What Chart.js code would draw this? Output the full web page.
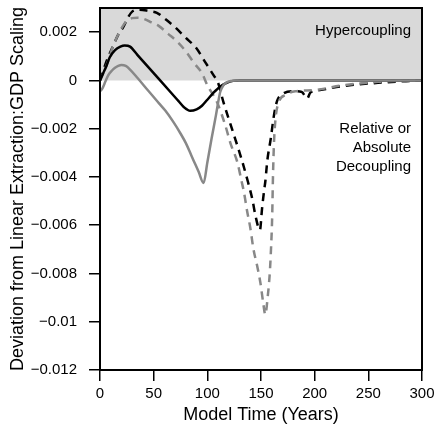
<!DOCTYPE html>
<html>
<head>
<meta charset="utf-8">
<script src="https://cdn.jsdelivr.net/npm/chart.js@4/dist/chart.umd.min.js"></script>
<style>
html,body{margin:0;padding:0;background:#fff;}
#wrap{width:435px;height:429px;position:relative;}
</style>
</head>
<body>
<div id="wrap"><canvas id="c" width="435" height="429"></canvas></div>
<script>
// ---- data ----
const blackSolidX = [0,3,6,9,14,19,23,28,35,45,55,65,73,78,84,90,95,100,106,112,118,124,130,150,200,300];
const blackSolidY = [0,0.0003,0.0006,0.00095,0.00125,0.0014,0.00145,0.0014,0.00105,0.00055,0.00005,-0.00045,-0.00085,-0.0011,-0.00126,-0.0012,-0.00105,-0.0008,-0.0005,-0.00025,-0.0001,-0.00002,0,0,0,0];

const graySolidX = [0,2,5,7.5,11,14,17,20,24,28,35,45,55,61,68,75,80,85,89,92,96.5,100,104,108,112,115,118,122,128,150,200,300];
const graySolidY = [-0.00045,-0.00035,-0.00005,0.0002,0.0004,0.00052,0.0006,0.00064,0.0006,0.00045,0.0001,-0.00043,-0.00095,-0.00126,-0.0017,-0.0022,-0.0026,-0.0031,-0.0035,-0.0038,-0.00425,-0.0034,-0.0024,-0.00145,-0.00048,-0.0002,-0.00008,-0.00002,0,0,0,0];

const blackDashX = [0,3,7,12,17,21.5,26,30,37,45,53,62,70,80,89.5,98,105.6,110,115,124,132,138,142,145,149,151,153,154,156,159,162,165,170,180,188,193,196,205,224,259,290,300];
const blackDashY = [0,0.0004,0.0009,0.0014,0.0019,0.0022,0.0026,0.00285,0.00293,0.00288,0.0028,0.0025,0.0022,0.00176,0.00135,0.00076,0.00023,-0.0001,-0.0009,-0.00215,-0.00328,-0.00423,-0.00494,-0.00564,-0.0062,-0.0053,-0.00453,-0.0042,-0.00328,-0.00244,-0.00147,-0.00085,-0.00057,-0.00045,-0.00048,-0.00075,-0.0005,-0.0004,-0.00025,-0.0001,-0.00002,0];

const grayDashX = [0,3,7.5,12,17,22,26,30,35,42,48,55,63.5,72,80,88,95,100,109,117,121.5,128,132,134,137,140,143,146.5,149.5,152,154,156.4,158,159,160.5,161,162,163.5,166.6,173,182,200,224,259,300];
const grayDashY = [0,0.0003,0.0008,0.0014,0.0019,0.0023,0.0025,0.00258,0.0026,0.00253,0.0024,0.00225,0.00193,0.0016,0.0012,0.0007,0.0003,-0.0002,-0.0009,-0.0019,-0.0026,-0.0034,-0.0042,-0.0046,-0.0054,-0.0061,-0.007,-0.0077,-0.0084,-0.0092,-0.0097,-0.0089,-0.0081,-0.0073,-0.0055,-0.0043,-0.0027,-0.0016,-0.0009,-0.0006,-0.00045,-0.0004,-0.00022,-0.00006,0];

const xTickValues = [0,50,100,150,200,250,300];
const yTickValues = [-0.012,-0.01,-0.008,-0.006,-0.004,-0.002,0,0.002];
const yTickLabels = ['\u22120.012','\u22120.01','\u22120.008','\u22120.006','\u22120.004','\u22120.002','0','0.002'];
const shadeX = [0,300];
const shadeTop = 0.003;
const shadeBase = 0;

const xTitle = 'Model Time (Years)';
const yTitle = 'Deviation from Linear Extraction:GDP Scaling';
const upperLabel = ['Hypercoupling'];
const lowerLabel = ['Relative or','Absolute','Decoupling'];

// ---- build ----
const pts = (xs, ys) => xs.map((x,i)=>({x:x,y:ys[i]}));
const FONT = '"Liberation Sans", Arial, Helvetica, sans-serif';
const GRAY = '#888888';

const framePlugin = {
  id:'frame',
  afterDatasetsDraw(chart){
    const {ctx, chartArea:a, scales} = chart;
    ctx.save();
    ctx.fillStyle = '#000';
    ctx.font = '15px ' + FONT;
    ctx.textAlign = 'right';
    ctx.textBaseline = 'middle';
    const rx = a.right - 11;
    const y1 = scales.y.getPixelForValue(0.002) - 1;
    upperLabel.forEach((t,i)=>ctx.fillText(t, rx, y1 + i*19));
    const y2 = scales.y.getPixelForValue(-0.002);
    lowerLabel.forEach((t,i)=>ctx.fillText(t, rx, y2 + i*19));
    ctx.strokeStyle = '#000';
    ctx.lineWidth = 2;
    ctx.strokeRect(a.left, a.top, a.right - a.left, a.bottom - a.top);
    ctx.restore();
  }
};

const common = {pointRadius:0, pointHoverRadius:0, fill:false, cubicInterpolationMode:'monotone', borderWidth:2.5};

new Chart(document.getElementById('c'), {
  type:'line',
  data:{
    datasets:[
      Object.assign({}, common, {label:'grayS', data:pts(graySolidX, graySolidY), borderColor:GRAY, order:1}),
      Object.assign({}, common, {label:'blackS', data:pts(blackSolidX, blackSolidY), borderColor:'#000', order:2}),
      Object.assign({}, common, {label:'grayD', data:pts(grayDashX, grayDashY), borderColor:GRAY, borderDash:[8,6], order:3}),
      Object.assign({}, common, {label:'blackD', data:pts(blackDashX, blackDashY), borderColor:'#000', borderDash:[8,6], order:4}),
      {label:'shade', data:pts(shadeX, shadeX.map(()=>shadeTop)), borderWidth:0, pointRadius:0, backgroundColor:'#d9d9d9', fill:{value:shadeBase}, order:10}
    ]
  },
  options:{
    responsive:false,
    animation:false,
    events:[],
    layout:{padding:{top:8, right:13, left:0, bottom:0}},
    plugins:{legend:{display:false}, tooltip:{enabled:false}},
    scales:{
      x:{
        type:'linear', min:0, max:300,
        afterFit(s){ s.height = 59; s.paddingLeft = 0; s.paddingRight = 0; },
        afterBuildTicks(s){ s.ticks = xTickValues.map(v=>({value:v})); },
        ticks:{font:{size:15, family:FONT}, color:'#000', padding:4, maxRotation:0,
               callback:(v)=>String(v)},
        grid:{drawOnChartArea:false, drawTicks:true, tickLength:11, color:'#000', lineWidth:1.5},
        border:{display:true, color:'#000', width:2},
        title:{display:true, text:xTitle, font:{size:18, family:FONT}, color:'#000', padding:{top:2,bottom:3}}
      },
      y:{
        type:'linear', min:-0.012, max:0.003,
        afterFit(s){ s.width = 100; s.paddingTop = 0; s.paddingBottom = 0; },
        afterBuildTicks(s){ s.ticks = yTickValues.map(v=>({value:v})); },
        ticks:{font:{size:15, family:FONT}, color:'#000', padding:12,
               callback:(v)=>{ const i = yTickValues.findIndex(t=>Math.abs(t-v)<1e-9); return i>=0 ? yTickLabels[i] : ''; }},
        grid:{drawOnChartArea:false, drawTicks:true, tickLength:11, color:'#000', lineWidth:1.5},
        border:{display:true, color:'#000', width:2},
        title:{display:true, text:yTitle, font:{size:18, family:FONT}, color:'#000', padding:{top:7,bottom:4}}
      }
    }
  },
  plugins:[framePlugin]
});
</script>
</body>
</html>
